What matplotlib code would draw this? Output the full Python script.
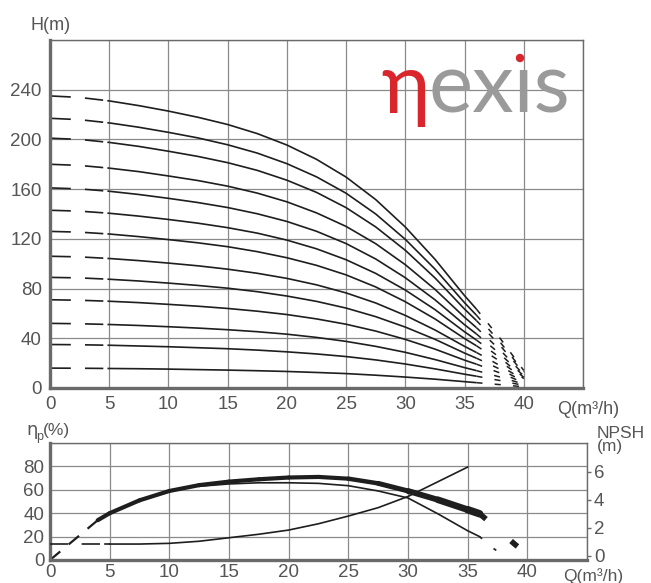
import matplotlib
matplotlib.use("Agg")
import matplotlib.pyplot as plt
from matplotlib.collections import LineCollection
from matplotlib.patches import Ellipse
import numpy as np

# ---------------- data ----------------
q_head = [0, 2.5, 5, 7.5, 10, 12.5, 15, 17.5, 20, 22.5, 25, 27.5, 30, 32.5, 35, 36,
          37, 38, 39, 40]
head_1 = [16, 15.9, 15.7, 15.5, 15.2, 14.8, 14.4, 13.9, 13.3, 12.5, 11.6, 10.3, 8.8, 7.1, 5.1, 4.3, 3.5, 2.7, 1.8, 1.0]
head_2 = [35, 34.8, 34.4, 33.8, 33.2, 32.4, 31.6, 30.5, 29.1, 27.4, 25.3, 22.6, 19.3, 15.4, 11.1, 9.5, 7.7, 6.0, 4.0, 2.1]
head_3 = [52, 51.7, 51.1, 50.3, 49.3, 48.2, 46.9, 45.3, 43.3, 40.7, 37.5, 33.5, 28.7, 22.9, 16.4, 14.0, 11.4, 8.8, 6.0, 3.1]
head_4 = [71, 70.6, 69.8, 68.7, 67.3, 65.8, 64.0, 61.8, 59.1, 55.6, 51.3, 45.8, 39.1, 31.3, 22.4, 19.2, 15.6, 12.1, 8.2, 4.3]
head_5 = [89, 88.6, 87.5, 86.1, 84.4, 82.5, 80.3, 77.5, 74.0, 69.7, 64.3, 57.4, 49.0, 39.2, 28.1, 24.0, 19.6, 15.1, 10.2, 5.3]
head_6 = [106, 105.5, 104.2, 102.5, 100.5, 98.3, 95.6, 92.3, 88.2, 83.0, 76.5, 68.4, 58.4, 46.7, 33.5, 28.6, 23.3, 18.0, 12.2, 6.4]
head_7 = [126, 125.4, 123.9, 121.8, 119.4, 116.8, 113.7, 109.7, 104.8, 98.7, 91.0, 81.3, 69.4, 55.6, 39.8, 34.0, 27.7, 21.4, 14.5, 7.6]
head_8 = [143, 142.3, 140.6, 138.3, 135.6, 132.6, 129.0, 124.6, 119.0, 112.0, 103.2, 92.2, 78.8, 63.1, 45.2, 38.6, 31.5, 24.3, 16.4, 8.6]
head_9 = [161, 160.2, 158.3, 155.7, 152.6, 149.2, 145.2, 140.2, 134.0, 126.1, 116.2, 103.8, 88.7, 71.0, 50.9, 43.5, 35.4, 27.4, 18.5, 9.7]
head_10 = [180, 179.1, 176.9, 174.1, 170.6, 166.9, 162.4, 156.8, 149.8, 140.9, 130.0, 116.1, 99.2, 79.4, 56.9, 48.6, 39.6, 30.6, 20.7, 10.8]
head_11 = [201, 200.0, 197.6, 194.4, 190.5, 186.3, 181.3, 175.1, 167.2, 157.4, 145.1, 129.6, 110.8, 88.6, 63.5, 54.3, 44.2, 34.2, 23.1, 12.1]
head_12 = [217, 215.9, 213.3, 209.8, 205.7, 201.2, 195.7, 189.0, 180.5, 169.9, 156.7, 140.0, 119.6, 95.7, 68.6, 58.6, 47.7, 36.9, 25.0, 13.0]
head_13 = [235, 233.8, 231.0, 227.2, 222.8, 217.8, 212.0, 204.7, 195.5, 184.0, 169.7, 151.6, 129.5, 103.6, 74.3, 63.5, 51.7, 40.0, 27.0, 14.1]
head_curves = [head_1, head_2, head_3, head_4, head_5, head_6, head_7,
               head_8, head_9, head_10, head_11, head_12, head_13]

q_eff = [0, 4, 5, 7.5, 10, 12.5, 15, 17.5, 20, 22.5, 25, 27.5, 30, 32.5, 35, 36,
         37, 38, 39, 40]
eff_high = [0, 34, 40, 51, 59, 64, 67, 69, 70.5, 71, 69.5, 65.5, 59, 51.5, 43, 39.5,
            31, 22, 13, 5]
eff_low = [0, 34, 40, 51, 59, 63, 65, 66, 66, 65.5, 63.5, 59, 53, 39.5, 25, 20,
           11, 4, np.nan, np.nan]

q_npsh = [0, 4, 5, 7.5, 10, 12.5, 15, 17.5, 20, 22.5, 25, 27.5, 30, 32.5, 35]
npsh = [0.85, 0.85, 0.85, 0.85, 0.9, 1.05, 1.3, 1.55, 1.85, 2.3, 2.85, 3.45, 4.25, 5.3, 6.35]

h_ticks = [0, 40, 80, 120, 160, 200, 240]
q_ticks = [0, 5, 10, 15, 20, 25, 30, 35, 40]
eff_ticks = [0, 20, 40, 60, 80]
npsh_ticks = [0, 2, 4, 6]

# ---------------- style ----------------
FONT = "Liberation Sans"
TXT = "#555555"
GRID = "#8a8a8a"
LINE = "#1e1e1e"
plt.rcParams["font.family"] = [FONT, "DejaVu Sans"]

fig = plt.figure(figsize=(6.51, 5.83), dpi=100)
W, H = 651, 583


def frac(l, t, r, b):
    return [l / W, (H - b) / H, (r - l) / W, (b - t) / H]


def style_axes(ax):
    for s in ["top", "right"]:
        ax.spines[s].set_color("#6a6a6a")
        ax.spines[s].set_linewidth(1.0)
    for s in ["left", "bottom"]:
        ax.spines[s].set_color("#6a6a6a")
        ax.spines[s].set_linewidth(2.4)
    ax.tick_params(length=0, labelsize=13.5, labelcolor=TXT, pad=6)
    ax.grid(True, color=GRID, lw=0.9)
    ax.set_axisbelow(True)


# ---------------- top chart ----------------
ax1 = fig.add_axes(frac(50, 40, 583, 388))
ax1.set_xlim(0, 45)
ax1.set_ylim(0, 280)
ax1.set_xticks(np.arange(0, 46, 5))
ax1.set_yticks(np.arange(0, 281, 40))
ax1.set_xticklabels([str(t) if t in q_ticks else "" for t in range(0, 46, 5)])
ax1.set_yticklabels([str(t) if t in h_ticks else "" for t in range(0, 281, 40)])
style_axes(ax1)

qh = np.array(q_head)
for hc in head_curves:
    hc = np.array(hc)
    # left dashed start (0 .. 5)
    ax1.plot(qh[:3], hc[:3], color=LINE, lw=1.2,
             dashes=(12.5, 8.5, 11, 2.5, 200, 0), solid_capstyle="butt")
    # solid body
    ax1.plot(qh[2:16], hc[2:16], color=LINE, lw=1.2, solid_capstyle="butt")
    # dashed continuation
    ax1.plot(qh[15:], hc[15:], color=LINE, lw=1.1, dashes=(4, 8))

fig.text(30 / W, 1 - 25 / H, "H(m)", fontsize=13, color=TXT, ha="left", va="center")
fig.text(557 / W, 1 - 409 / H, "Q(m³/h)", fontsize=13, color=TXT, ha="left", va="center")

# logo
fig.text(381 / W, 1 - 113 / H, "η", fontsize=60, color="#d8262c",
         family=["Lato", "DejaVu Sans"], fontweight="normal", ha="left", va="baseline")
fig.text(429 / W, 1 - 113 / H, "exıs", fontsize=60, color="#9a9a9a",
         family=["Lato", "DejaVu Sans"], fontweight="normal", ha="left", va="baseline")
fig.patches.append(Ellipse((5.20, (H - 58) / 100), 0.07, 0.07,
                           transform=fig.dpi_scale_trans, color="#d8262c"))

# ---------------- bottom chart ----------------
ax2 = fig.add_axes(frac(50, 443, 587, 560))
ax2.set_xlim(0, 45)
ax2.set_ylim(0, 100)
ax2.set_xticks(np.arange(0, 46, 5))
ax2.set_yticks(np.arange(0, 101, 20))
ax2.set_xticklabels([str(t) if t in q_ticks else "" for t in range(0, 46, 5)])
ax2.set_yticklabels([str(t) if t in eff_ticks else "" for t in range(0, 101, 20)])
style_axes(ax2)
ax2.tick_params(axis="x", pad=3)
ax2.tick_params(axis="y", pad=4)

qe = np.array(q_eff)
eh = np.array(eff_high)
el = np.array(eff_low)
# efficiency, dashed start
ax2.plot(qe[:2], eh[:2], color=LINE, lw=1.6, dashes=(6, 5))
# thick efficiency band (widening toward the end)
pts = np.column_stack([qe[1:16], eh[1:16]])
segs = np.stack([pts[:-1], pts[1:]], axis=1)
widths = [3.0, 3.0, 3.0, 3.0, 3.0, 3.0, 3.0, 3.0, 3.0, 3.2, 3.6, 4.2, 4.8, 5.4]
ax2.add_collection(LineCollection(segs, colors=LINE, linewidths=widths,
                                  capstyle="round"))
ax2.plot(qe[15:], eh[15:], color=LINE, lw=4.0, dashes=(1.5, 6))
# thin efficiency curve
ax2.plot(qe[5:16], el[5:16], color=LINE, lw=1.2)
ax2.plot(qe[15:], el[15:], color=LINE, lw=1.2, dashes=(2, 9))

ax3 = ax2.twinx()
ax3.set_ylim(-0.29, 8.07)
ax3.set_yticks(npsh_ticks)
ax3.tick_params(axis="y", length=3, width=1, color="#6a6a6a", labelsize=13.5,
                labelcolor=TXT, pad=2)
for s in ax3.spines.values():
    s.set_visible(False)

qn = np.array(q_npsh)
nn = np.array(npsh)
ax3.plot(qn[:3], nn[:3], color=LINE, lw=1.2, dashes=(11, 8, 11, 2.5, 200, 0))
ax3.plot(qn[2:], nn[2:], color=LINE, lw=1.2)

# eta_p (%) label
fig.text(26 / W, 1 - 430 / H, "η", fontsize=13, color=TXT,
         family=["DejaVu Sans"], ha="left", va="center")
fig.text(36 / W, 1 - 437 / H, "p", fontsize=9, color=TXT, ha="left", va="center")
fig.text(43 / W, 1 - 430 / H, "(%)", fontsize=12.5, color=TXT, ha="left", va="center")

fig.text(597 / W, 1 - 440 / H, "NPSH\n(m)", fontsize=12.5, color=TXT,
         ha="left", va="center", linespacing=0.85)
fig.text(563 / W, 1 - 576 / H, "Q(m³/h)", fontsize=12.5, color=TXT,
         ha="left", va="center")

fig.savefig("out.png", dpi=100)
